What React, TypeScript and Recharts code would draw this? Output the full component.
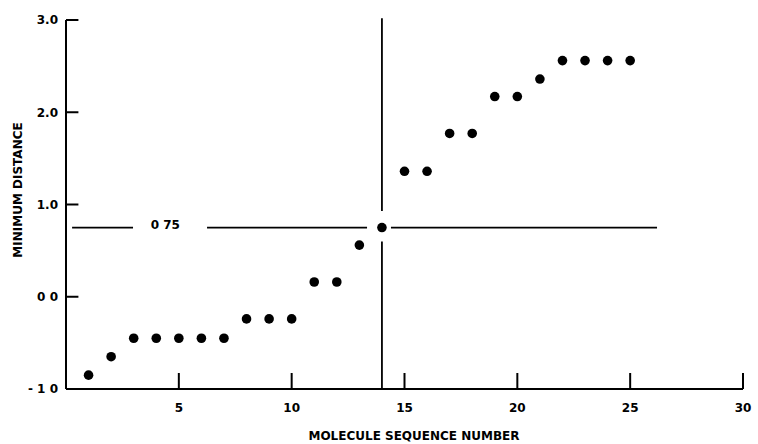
import { ScatterChart, Scatter, XAxis, YAxis, ReferenceLine, Label } from 'recharts';

const sequence = [1, 2, 3, 4, 5, 6, 7, 8, 9, 10, 11, 12, 13, 14, 15, 16, 17, 18, 19, 20, 21, 22, 23, 24, 25];
const minDistance = [
  -0.85, -0.65, -0.45, -0.45, -0.45, -0.45, -0.45, -0.24, -0.24, -0.24,
  0.16, 0.16, 0.56, 0.75, 1.36, 1.36, 1.77, 1.77, 2.17, 2.17,
  2.36, 2.56, 2.56, 2.56, 2.56,
];

const xTicks = [5, 10, 15, 20, 25, 30];
const yTicks = [-1, 0, 1, 2, 3];
const yTickLabels = ['- 1 0', '0 0', '1.0', '2.0', '3.0'];

const threshold = 0.75;
const thresholdLabel = '0 75';
const cutoffSequence = 14;
// pieces of the cross-hair lines (data units), gaps left for the label and the point
const hSegments = [
  [0.27, 2.97],
  [6.25, 13.34],
  [14.4, 26.19],
];
const vSegments = [
  [-1, 0.6],
  [0.93, 3.02],
];

const data = sequence.map((x, i) => ({ x, y: minDistance[i] }));

const font = '"DejaVu Sans", Arial, sans-serif';

const YTick = (props: any) => {
  const x = Number(props.x);
  const y = Number(props.y);
  const idx = yTicks.indexOf(props.payload.value);
  return (
    <text x={x} y={y + 4.4} textAnchor="end" fontFamily={font} fontWeight="bold" fontSize={12} fill="#000">
      {yTickLabels[idx]}
    </text>
  );
};

const XTick = (props: any) => {
  const x = Number(props.x);
  const y = Number(props.y);
  return (
    <text x={x} y={y + 15} textAnchor="middle" fontFamily={font} fontWeight="bold" fontSize={12} fill="#000">
      {props.payload.value}
    </text>
  );
};

export default function App() {
  return (
    <div style={{ position: 'absolute', left: 0, top: 0, background: '#fff' }}>
      <ScatterChart width={758} height={444} margin={{ top: 20, right: 15, bottom: 0, left: 0 }}>
        <XAxis
          type="number"
          dataKey="x"
          domain={[0, 30]}
          ticks={xTicks}
          tick={<XTick />}
          tickSize={-16}
          tickMargin={24}
          tickLine={{ stroke: '#000', strokeWidth: 2 }}
          axisLine={{ stroke: '#000', strokeWidth: 2 }}
          height={55}
        >
          <Label
            value="MOLECULE SEQUENCE NUMBER"
            content={() => (
              <text x={414} y={439.5} textAnchor="middle" fontFamily={font} fontWeight="bold" fontSize={12} fill="#000">
                MOLECULE SEQUENCE NUMBER
              </text>
            )}
          />
        </XAxis>
        <YAxis
          type="number"
          dataKey="y"
          domain={[-1, 3]}
          ticks={yTicks}
          tick={<YTick />}
          tickLine={false}
          axisLine={{ stroke: '#000', strokeWidth: 2 }}
          width={66}
        >
          <Label
            value="MINIMUM DISTANCE"
            content={() => (
              <text
                x={18}
                y={190}
                transform="rotate(-90 18 190)"
                textAnchor="middle"
                dominantBaseline="middle"
                fontFamily={font}
                fontWeight="bold"
                fontSize={12}
                fill="#000"
              >
                MINIMUM DISTANCE
              </text>
            )}
          />
        </YAxis>
        {/* inward y ticks */}
        {yTicks.map((t) => (
          <ReferenceLine
            key={`yt${t}`}
            segment={[{ x: 0, y: t }, { x: 0.55, y: t }]}
            stroke="#000"
            strokeWidth={2}
            ifOverflow="visible"
          />
        ))}
        {hSegments.map(([a, b], i) => (
          <ReferenceLine
            key={`h${i}`}
            segment={[{ x: a, y: threshold }, { x: b, y: threshold }]}
            stroke="#000"
            strokeWidth={1.8}
            ifOverflow="visible"
          />
        ))}
        {vSegments.map(([a, b], i) => (
          <ReferenceLine
            key={`v${i}`}
            segment={[{ x: cutoffSequence, y: a }, { x: cutoffSequence, y: b }]}
            stroke="#000"
            strokeWidth={1.8}
            ifOverflow="visible"
          />
        ))}
        <ReferenceLine
          x={4.4}
          stroke="none"
          ifOverflow="visible"
          label={(props: any) => {
            const vb = props.viewBox;
            return (
              <text x={vb.x} y={225 + 4.4} textAnchor="middle" fontFamily={font} fontWeight="bold" fontSize={12} fill="#000">
                {thresholdLabel}
              </text>
            );
          }}
        />
        <Scatter
          data={data}
          isAnimationActive={false}
          shape={(p: any) => <circle cx={p.cx} cy={p.cy} r={4.8} fill="#000" />}
        />
      </ScatterChart>
    </div>
  );
}
